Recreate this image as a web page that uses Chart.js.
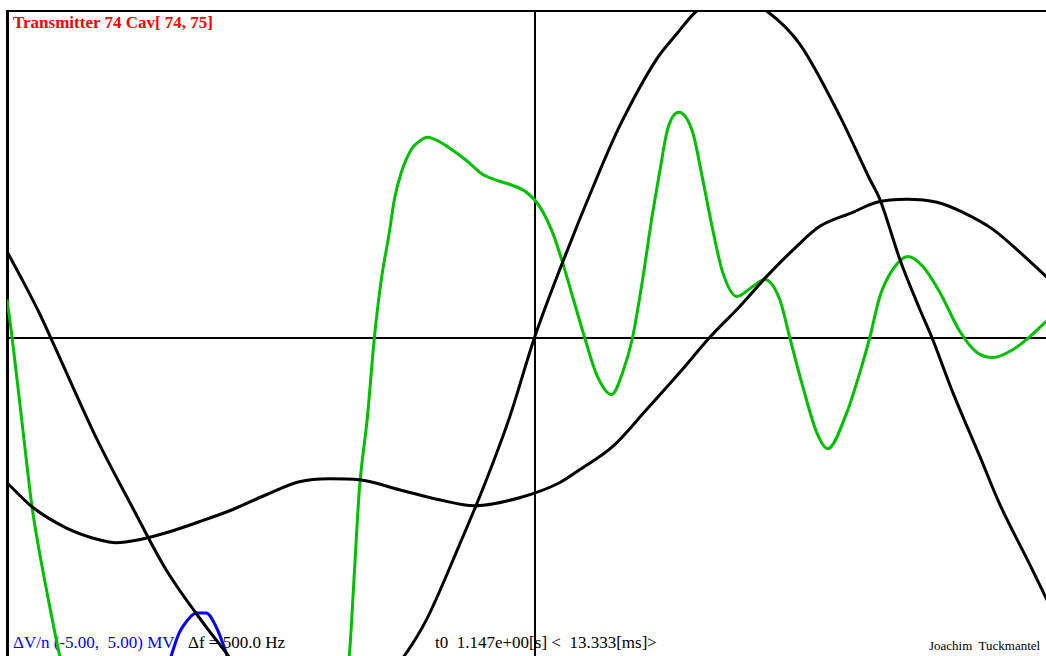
<!DOCTYPE html>
<html>
<head>
<meta charset="utf-8">
<script src="https://cdn.jsdelivr.net/npm/chart.js@4.4.1/dist/chart.umd.min.js"></script>
<style>
  html, body { margin: 0; padding: 0; background: #fff; overflow: hidden; }
  #wrap { position: relative; width: 1062px; height: 664px; }
  #wrap canvas { position: absolute; left: 0; top: 0; z-index: 2; }
  .lbl { position: absolute; z-index: 1; white-space: pre; font-family: "Liberation Serif", "Times New Roman", serif; line-height: 17px; }
</style>
</head>
<body>
<div id="wrap">
  <span class="lbl" style="left:13px; top:14px; font-size:17px; font-weight:bold; color:#ff0000;">Transmitter 74 Cav[ 74, 75]</span>
  <span class="lbl" style="left:13px; top:634px; font-size:17px; color:#0000ff;">ΔV/n (-5.00,  5.00) MV</span>
  <span class="lbl" style="left:188px; top:634px; font-size:17px; color:#000;">Δf = 500.0 Hz</span>
  <span class="lbl" style="left:435px; top:634px; font-size:17px; color:#000;">t0  1.147e+00[s] &lt;  13.333[ms]&gt;</span>
  <span class="lbl" style="left:929px; top:637px; font-size:13px; color:#000;">Joachim  Tuckmantel</span>
  <canvas id="c" width="1062" height="664"></canvas>
</div>
<script>
// sweep of 13.333 ms, voltage window -5..5 MV
const sweepMs = 13.333;
const vMin = -5, vMax = 5;

// first black trace (fast sine)
const blackAx = [0.000, 0.190, 0.405, 0.620, 1.139, 1.581, 2.011, 2.517, 2.770, 3.188, 3.884, 4.579, 5.022, 5.300, 5.718, 6.034, 6.350, 6.667, 7.021, 7.489, 7.742, 8.210, 8.463, 8.716, 9.159, 9.601, 10.019, 10.525, 10.904, 11.031, 11.284, 11.537, 11.689, 11.954, 12.296, 12.549, 12.928, 13.131, 13.333];
const blackAy = [1.319, 0.890, 0.383, -0.184, -1.564, -2.592, -3.558, -4.433, -4.831, -5.552, -6.012, -5.552, -4.877, -4.325, -3.175, -2.255, -1.227, 0.000, 1.150, 2.546, 3.236, 4.264, 4.647, 5.000, 5.260, 5.000, 4.494, 3.390, 2.423, 2.117, 1.196, 0.429, 0.000, -0.844, -1.825, -2.561, -3.482, -3.988, -4.479];

// second black trace (slow)
const blackBx = [0.000, 0.316, 0.746, 1.164, 1.379, 1.670, 2.011, 2.429, 2.846, 3.276, 3.694, 4.073, 4.453, 4.959, 5.465, 5.908, 6.477, 6.983, 7.236, 7.653, 8.083, 8.501, 8.880, 9.260, 9.601, 9.981, 10.272, 10.689, 10.993, 11.372, 11.752, 12.081, 12.460, 12.802, 13.131, 13.333];
const blackBy = [-2.224, -2.592, -2.914, -3.098, -3.144, -3.098, -2.991, -2.822, -2.638, -2.408, -2.209, -2.163, -2.178, -2.331, -2.485, -2.577, -2.454, -2.224, -2.025, -1.672, -1.104, -0.537, 0.000, 0.475, 0.936, 1.396, 1.702, 1.917, 2.071, 2.117, 2.071, 1.917, 1.656, 1.304, 0.936, 0.706];

// green trace
const greenX = [0.000, 0.063, 0.215, 0.316, 0.405, 0.531, 0.658, 0.911, 2.429, 3.694, 4.200, 4.326, 4.390, 4.453, 4.554, 4.643, 4.731, 4.832, 4.896, 4.984, 5.111, 5.212, 5.313, 5.465, 5.629, 5.806, 6.009, 6.224, 6.388, 6.565, 6.730, 6.894, 7.021, 7.147, 7.300, 7.451, 7.641, 7.780, 7.906, 8.033, 8.147, 8.248, 8.349, 8.488, 8.665, 8.792, 8.918, 9.045, 9.222, 9.424, 9.576, 9.766, 9.892, 10.057, 10.234, 10.373, 10.613, 10.778, 10.904, 11.031, 11.195, 11.385, 11.575, 11.790, 12.043, 12.258, 12.460, 12.713, 12.928, 13.131, 13.333];
const greenY = [0.583, 0.015, -1.564, -2.592, -3.252, -4.064, -4.831, -6.166, -7.500, -7.000, -5.860, -4.877, -3.604, -2.331, -1.227, 0.000, 0.890, 1.610, 2.117, 2.531, 2.883, 3.006, 3.067, 3.000, 2.870, 2.710, 2.500, 2.393, 2.331, 2.224, 2.009, 1.610, 1.150, 0.629, 0.000, -0.567, -0.874, -0.537, 0.000, 0.890, 1.810, 2.531, 3.190, 3.451, 3.144, 2.423, 1.656, 0.997, 0.629, 0.782, 0.890, 0.583, 0.000, -0.752, -1.457, -1.702, -1.150, -0.537, 0.000, 0.629, 1.043, 1.242, 1.089, 0.690, 0.092, -0.230, -0.307, -0.184, 0.015, 0.245, 0.460];

// blue trace (only its top is inside the window)
const blueX = [1.986, 2.075, 2.176, 2.264, 2.391, 2.517, 2.644, 2.770, 2.872];
const blueY = [-5.245, -4.877, -4.525, -4.356, -4.218, -4.218, -4.433, -4.831, -5.245];

const pts = (xs, ys) => xs.map((x, i) => ({ x: x, y: ys[i] }));

const trace = (data, color) => ({
  data: data,
  borderColor: color,
  borderWidth: 3,
  pointRadius: 0,
  fill: false,
  cubicInterpolationMode: 'monotone',
});

new Chart(document.getElementById('c'), {
  type: 'line',
  data: {
    datasets: [
      trace(pts(blackAx, blackAy), '#000000'),
      trace(pts(blackBx, blackBy), '#000000'),
      trace(pts(greenX, greenY), '#00c000'),
      trace(pts(blueX, blueY), '#0000ff'),
    ],
  },
  options: {
    responsive: false,
    animation: false,
    layout: { padding: { left: 7, top: 11, right: 0, bottom: 0 } },
    plugins: { legend: false, tooltip: false, title: false },
    scales: {
      x: {
        type: 'linear',
        position: 'top',
        min: 0,
        max: sweepMs,
        afterBuildTicks: (axis) => { axis.ticks = [{ value: sweepMs / 2 }]; },
        ticks: { display: false },
        grid: { color: '#000', lineWidth: 2, drawTicks: false },
        border: { display: true, color: '#000', width: 2 },
      },
      y: {
        type: 'linear',
        min: vMin,
        max: vMax,
        afterBuildTicks: (axis) => { axis.ticks = [{ value: 0 }]; },
        ticks: { display: false },
        grid: { color: '#000', lineWidth: 2, drawTicks: false },
        border: { display: true, color: '#000', width: 3 },
      },
    },
  },
});
</script>
</body>
</html>
